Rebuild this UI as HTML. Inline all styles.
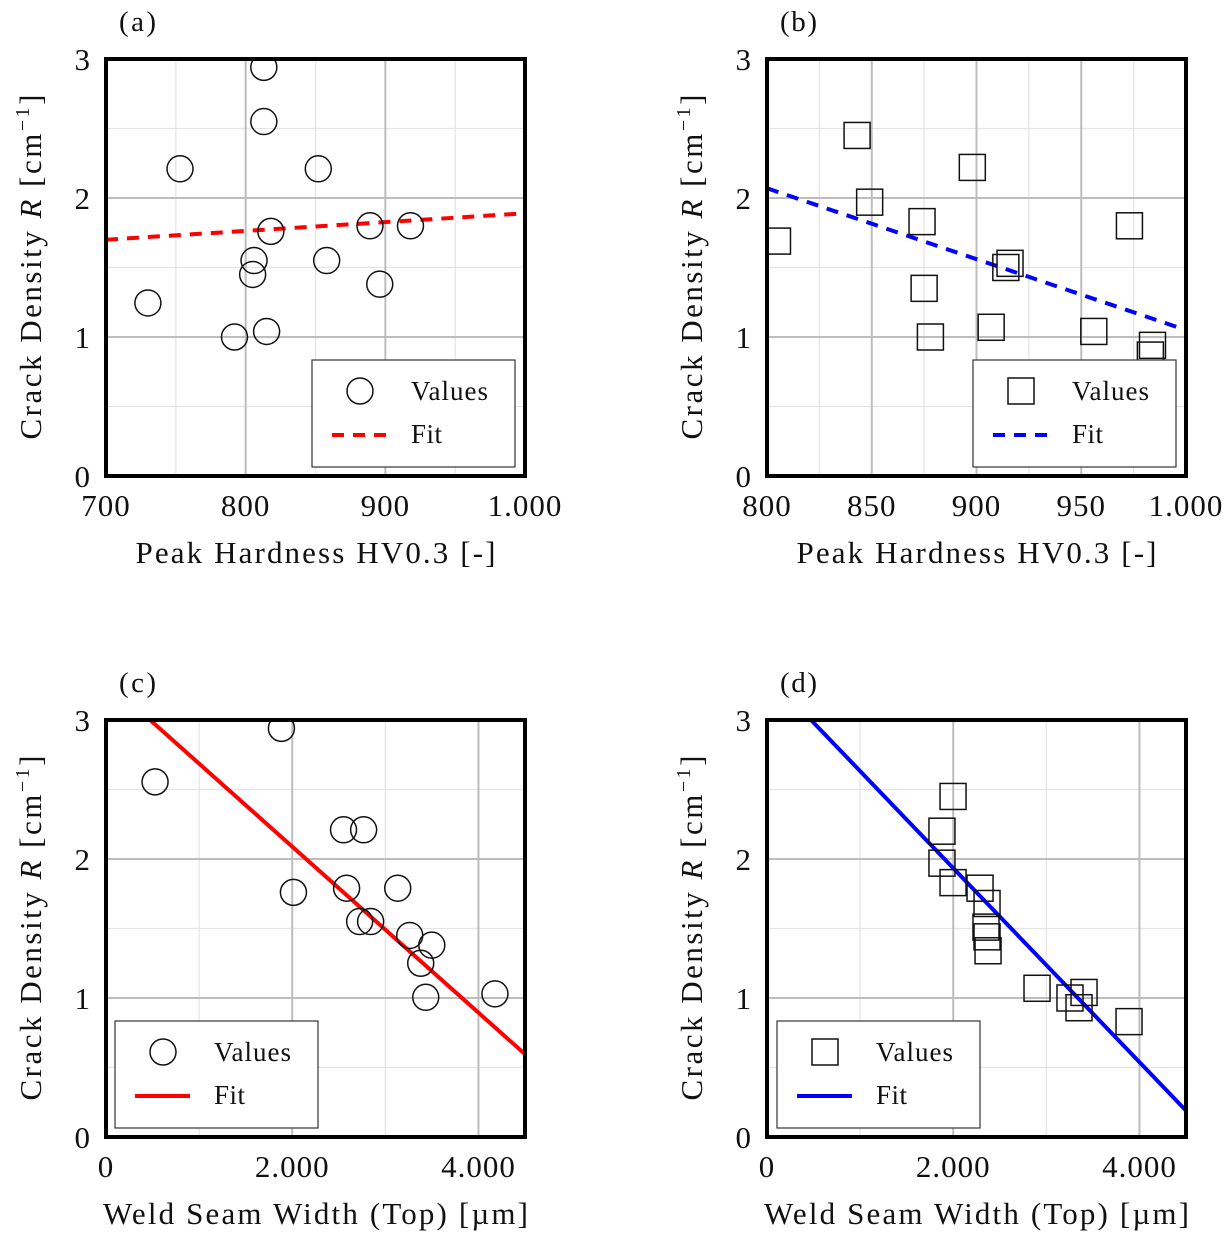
<!DOCTYPE html>
<html><head><meta charset="utf-8"><style>
body{margin:0;background:#fff}
svg text{font-family:"Liberation Serif",serif;fill:#111}
</style></head><body>
<svg id="s" width="1232" height="1242" xmlns="http://www.w3.org/2000/svg"></svg>
<script>
// Panel (a)
const aX=[730,753,813,813,852,818,806,805,792,815,858,889,918,896];
const aY=[1.245,2.21,2.94,2.55,2.21,1.76,1.55,1.45,1.0,1.04,1.55,1.80,1.80,1.38];
const aFit=[1.70,1.89];
// Panel (b)
const bX=[805,843,849,898,874,875,878,907,914,916,956,973,983,984];
const bY=[1.69,2.45,1.97,2.22,1.83,1.35,1.0,1.07,1.50,1.53,1.04,1.80,0.87,0.94];
const bFit=[2.07,1.05];
// Panel (c)
const cX=[527,1884,2013,2551,2767,2584,2724,2842,3133,3262,3380,3499,3434,4177];
const cY=[2.555,2.94,1.76,2.21,2.21,1.79,1.55,1.55,1.79,1.45,1.25,1.38,1.005,1.03];
const cFitX=[474,4500];const cFitY=[3.0,0.596];
// Panel (d)
const dX=[1998,1879,1879,1998,2288,2363,2352,2363,2374,2900,3254,3351,3405,3888];
const dY=[2.45,2.20,1.97,1.83,1.79,1.68,1.51,1.44,1.34,1.07,1.00,0.93,1.04,0.83];
const dFitX=[473,4500];const dFitY=[3.0,0.19];
const xTicksA=["700","800","900","1.000"];
const xTicksB=["800","850","900","950","1.000"];
const xTicksC=["0","2.000","4.000"];
const yTicks=["0","1","2","3"];

const S=document.getElementById('s');const NS="http://www.w3.org/2000/svg";
function mk(t,a,p){const e=document.createElementNS(NS,t);for(const k in a)e.setAttribute(k,a[k]);(p||S).appendChild(e);return e;}

function panel(o){
  const g=mk('g',{});
  
  
  const L=o.x0,R=o.x0+419,T=o.y0,B=o.y0+417;
  const sx=v=>L+(v-o.xmin)/(o.xmax-o.xmin)*(R-L);
  const sy=v=>B-v/3*(B-T);
  for(let v=o.xmin;v<=o.xmax+1e-9;v+=o.minor){mk('line',{x1:sx(v),x2:sx(v),y1:T,y2:B,stroke:'#e4e4e4','stroke-width':1.2},g);}
  for(let v=0.5;v<3;v+=1){mk('line',{x1:L,x2:R,y1:sy(v),y2:sy(v),stroke:'#e4e4e4','stroke-width':1.2},g);}
  o.ticks.forEach((t,i)=>{const v=o.xmin+i*o.major;const x=sx(v);
    mk('line',{x1:x,x2:x,y1:T,y2:B,stroke:'#bdbdbd','stroke-width':2},g);
    const tx=mk('text',{x:x,y:B+40,'font-size':31,'text-anchor':'middle','letter-spacing':1},g);tx.textContent=t;
    });
  yTicks.forEach((t,i)=>{const y=sy(i);
    if(i>0&&i<3)mk('line',{x1:L,x2:R,y1:y,y2:y,stroke:'#bdbdbd','stroke-width':2},g);
    const tx=mk('text',{x:L-16,y:y+11,'font-size':31,'text-anchor':'end'},g);tx.textContent=t;
    });
  const cp=mk('clipPath',{id:'c'+o.id},g);mk('rect',{x:L,y:T,width:R-L,height:B-T},cp);
  const cg=mk('g',{'clip-path':'url(#c'+o.id+')'},g);
  const fl=mk('line',{x1:sx(o.fx[0]),y1:sy(o.fy[0]),x2:sx(o.fx[1]),y2:sy(o.fy[1]),stroke:o.col,'stroke-width':4,'stroke-dasharray':o.dash?'12 9':'none'},cg);
  
  o.px.forEach((v,i)=>{const x=sx(v),y=sy(o.py[i]);let m;
    if(o.sq)m=mk('rect',{x:x-13,y:y-13,width:26,height:26,fill:'none',stroke:'#111','stroke-width':1.5},cg);
    else m=mk('circle',{cx:x,cy:y,r:13,fill:'none',stroke:'#111','stroke-width':1.5},cg);
    });
  mk('rect',{x:L,y:T,width:R-L,height:B-T,fill:'none',stroke:'#000','stroke-width':4},g);
  const lx=o.lx,ly=o.ly;const lg=mk('g',{},g);
  
  mk('rect',{x:lx,y:ly,width:203,height:107,fill:'#fff',stroke:'#333','stroke-width':1.2},lg);
  if(o.sq)mk('rect',{x:lx+35,y:ly+18,width:26,height:26,fill:'none',stroke:'#111','stroke-width':1.5},lg);
  else mk('circle',{cx:lx+48,cy:ly+31,r:13,fill:'none',stroke:'#111','stroke-width':1.5},lg);
  mk('line',{x1:lx+20,x2:lx+75,y1:ly+75,y2:ly+75,stroke:o.col,'stroke-width':4,'stroke-dasharray':o.dash?'12 9':'none'},lg);
  let t=mk('text',{x:lx+99,y:ly+40,'font-size':27,textLength:77},lg);t.textContent='Values';
  t=mk('text',{x:lx+99,y:ly+83,'font-size':27,textLength:31},lg);t.textContent='Fit';
  t=mk('text',{x:(L+R)/2-o.xlw/2,y:B+87,'font-size':31,textLength:o.xlw,lengthAdjust:'spacing'},g);t.textContent=o.xl;
  
  t=mk('text',{x:-172,y:0,'font-size':31,textLength:345,transform:`translate(${L-65},${(T+B)/2}) rotate(-90)`},g);
  t.innerHTML='Crack Density <tspan font-style="italic">R</tspan> [cm<tspan dy="-12" font-size="20">−1</tspan><tspan dy="12">]</tspan>';
  
  t=mk('text',{x:L+13,y:T-28,'font-size':29,textLength:37},g);t.textContent='('+o.id+')';
  
}
const ph='Peak Hardness HV0.3 [-]',ws='Weld Seam Width (Top) [µm]';
panel({id:'a',x0:106,y0:59,xmin:700,xmax:1000,major:100,minor:50,ticks:xTicksA,px:aX,py:aY,fx:[700,1000],fy:aFit,col:'#f00',dash:true,sq:false,lx:312,ly:360,xl:ph,xlw:360});
panel({id:'b',x0:767,y0:59,xmin:800,xmax:1000,major:50,minor:25,ticks:xTicksB,px:bX,py:bY,fx:[800,1000],fy:bFit,col:'#00f',dash:true,sq:true,lx:973,ly:360,xl:ph,xlw:360});
panel({id:'c',x0:106,y0:720,xmin:0,xmax:4500,major:2000,minor:1000,ticks:xTicksC,px:cX,py:cY,fx:cFitX,fy:cFitY,col:'#f00',dash:false,sq:false,lx:115,ly:1021,xl:ws,xlw:425});
panel({id:'d',x0:767,y0:720,xmin:0,xmax:4500,major:2000,minor:1000,ticks:xTicksC,px:dX,py:dY,fx:dFitX,fy:dFitY,col:'#00f',dash:false,sq:true,lx:777,ly:1021,xl:ws,xlw:425});
</script>
</body></html>
